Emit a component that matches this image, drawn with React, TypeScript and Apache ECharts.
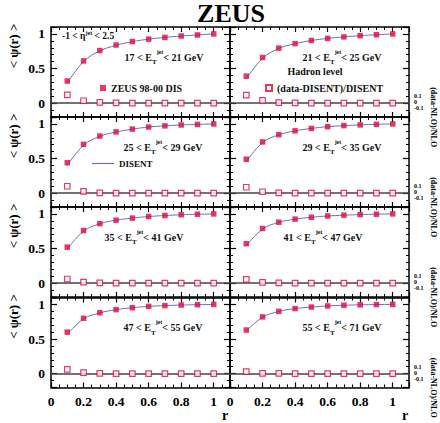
import React, { useEffect, useRef } from 'react';
import * as echarts from 'echarts';

const rValues = [0.1, 0.2, 0.3, 0.4, 0.5, 0.6, 0.7, 0.8, 0.9, 1.0];
const etLow = [17, 21, 25, 29, 35, 41, 47, 55];
const etHigh = [21, 25, 29, 35, 41, 47, 55, 71];

const psi17 = [0.32, 0.61, 0.76, 0.84, 0.89, 0.925, 0.95, 0.97, 0.985, 1.0];
const psi21 = [0.39, 0.66, 0.795, 0.86, 0.905, 0.935, 0.957, 0.975, 0.988, 1.0];
const psi25 = [0.44, 0.705, 0.825, 0.885, 0.925, 0.955, 0.972, 0.985, 0.993, 1.0];
const psi29 = [0.49, 0.74, 0.845, 0.9, 0.935, 0.96, 0.975, 0.986, 0.994, 1.0];
const psi35 = [0.52, 0.76, 0.86, 0.91, 0.94, 0.962, 0.977, 0.988, 0.995, 1.0];
const psi41 = [0.57, 0.79, 0.88, 0.925, 0.952, 0.97, 0.982, 0.99, 0.996, 1.0];
const psi47 = [0.6, 0.8, 0.88, 0.925, 0.952, 0.972, 0.983, 0.991, 0.996, 1.0];
const psi55 = [0.63, 0.82, 0.9, 0.94, 0.962, 0.978, 0.988, 0.994, 0.998, 1.0];

const dis17 = [0.29, 0.6, 0.755, 0.835, 0.888, 0.924, 0.95, 0.97, 0.985, 1.0];
const dis21 = [0.35, 0.645, 0.79, 0.858, 0.904, 0.935, 0.957, 0.975, 0.988, 1.0];
const dis25 = [0.4, 0.69, 0.82, 0.883, 0.924, 0.955, 0.972, 0.985, 0.993, 1.0];
const dis29 = [0.455, 0.73, 0.842, 0.899, 0.935, 0.96, 0.975, 0.986, 0.994, 1.0];
const dis35 = [0.49, 0.75, 0.858, 0.909, 0.94, 0.962, 0.977, 0.988, 0.995, 1.0];
const dis41 = [0.54, 0.78, 0.878, 0.924, 0.952, 0.97, 0.982, 0.99, 0.996, 1.0];
const dis47 = [0.565, 0.79, 0.877, 0.924, 0.952, 0.972, 0.983, 0.991, 0.996, 1.0];
const dis55 = [0.615, 0.815, 0.898, 0.94, 0.962, 0.978, 0.988, 0.994, 0.998, 1.0];

const rat17 = [0.12, 0.035, 0.01, 0.005, 0, 0, 0, 0, 0, 0];
const rat21 = [0.115, 0.04, 0.008, 0.003, 0, 0, 0, 0, 0, 0];
const rat25 = [0.1, 0.025, 0.005, 0, 0, 0, 0, 0, 0, 0];
const rat29 = [0.085, 0.02, 0.004, 0, 0, 0, 0, 0, 0, 0];
const rat35 = [0.06, 0.015, 0.003, 0, 0, 0, 0, 0, 0, 0];
const rat41 = [0.055, 0.01, 0.003, 0, 0, 0, 0, 0, 0, 0];
const rat47 = [0.063, 0.015, 0.005, 0, 0, 0, 0, 0, 0, 0];
const rat55 = [0.03, 0.005, 0.003, 0, 0, 0, 0, 0, 0, 0];

const xTickLabels = ['0', '0.2', '0.4', '0.6', '0.8', '1'];
const yTickLabels = ['0', '0.5', '1'];
const ratioTickLabels = ['0.1', '0', '-0.1'];
const ratioTickValues = [0.1, 0, -0.1];

const psiAll = [psi17, psi21, psi25, psi29, psi35, psi41, psi47, psi55];
const disAll = [dis17, dis21, dis25, dis29, dis35, dis41, dis47, dis55];
const ratAll = [rat17, rat21, rat25, rat29, rat35, rat41, rat47, rat55];

const FONT = 'Liberation Serif';
const RED = '#e0083a';
const BLUE = '#6b6bd9';
const GL = [51, 230];
const GW = 179;
const GT = [27, 117, 207, 297.5];
const GH = 90;
const YMIN = -0.2;
const YMAX = 1.1;
const zeroY = (row: number) => GT[row] + (YMAX / (YMAX - YMIN)) * GH;

const labelCenters = [164, 342, 163, 342, 144, 323, 163, 342];

const fmt = (v: number) => String(Math.round(v * 10) / 10);

export default function App() {
  const ref = useRef<HTMLDivElement>(null);
  useEffect(() => {
    if (!ref.current) return;
    const chart = echarts.init(ref.current, null, { renderer: 'svg' });
    const grids: any[] = [];
    const xAxes: any[] = [];
    const yAxes: any[] = [];
    const series: any[] = [];
    const graphics: any[] = [];
    for (let i = 0; i < 8; i++) {
      const row = Math.floor(i / 2);
      const col = i % 2;
      grids.push({ left: GL[col], top: GT[row], width: GW, height: GH, containLabel: false, outerBoundsMode: 'none' });
      const axLine = { show: true, onZero: false, lineStyle: { color: '#000', width: 1.5 } };
      ['bottom', 'top'].forEach((pos) => {
        xAxes.push({
          type: 'value', gridIndex: i, position: pos, min: 0, max: 1.1, interval: 0.2,
          axisLine: axLine,
          axisTick: { show: true, inside: true, length: 5, lineStyle: { color: '#000', width: 1.2 } },
          minorTick: { show: true, splitNumber: 4, length: 3, lineStyle: { color: '#000', width: 1 } },
          splitLine: { show: false }, minorSplitLine: { show: false },
          axisLabel: {
            show: pos === 'bottom' && row === 3, margin: 7,
            fontFamily: FONT, fontWeight: 'bold', fontSize: 13.5, color: '#000',
            formatter: (v: number) => (xTickLabels.includes(fmt(v)) ? fmt(v) : ''),
          },
        });
      });
      ['left', 'right'].forEach((pos) => {
        yAxes.push({
          type: 'value', gridIndex: i, position: pos, min: YMIN, max: YMAX, splitNumber: 3,
          axisLine: axLine,
          axisTick: { show: true, inside: true, length: 6, lineStyle: { color: '#000', width: 1.2 } },
          minorTick: { show: true, splitNumber: 5, length: 3, lineStyle: { color: '#000', width: 1 } },
          splitLine: { show: false }, minorSplitLine: { show: false },
          axisLabel: {
            show: pos === 'left' && col === 0, margin: 6,
            fontFamily: FONT, fontWeight: 'bold', fontSize: 13.5, color: '#000',
            formatter: (v: number) => (yTickLabels.includes(fmt(v)) ? fmt(v) : ''),
          },
        });
      });
      const xi = 2 * i;
      const yi = 2 * i;
      series.push({
        name: 'DISENT', type: 'line', xAxisIndex: xi, yAxisIndex: yi, smooth: 0.4,
        symbol: 'none', data: rValues.map((r, k) => [r, disAll[i][k]]),
        lineStyle: { color: BLUE, width: 1 }, itemStyle: { color: BLUE }, z: 2,
      });
      series.push({
        name: '(data-DISENT)/DISENT', type: 'scatter', xAxisIndex: xi, yAxisIndex: yi,
        symbol: 'rect', symbolSize: 5.5, data: rValues.map((r, k) => [r, ratAll[i][k]]),
        itemStyle: { color: '#fff', borderColor: RED, borderWidth: 1.2 }, z: 4,
        markLine: {
          silent: true, symbol: ['none', 'none'], label: { show: false },
          lineStyle: { color: '#444', width: 1.5, type: 'solid' }, data: [{ yAxis: 0 }], z: 1,
        },
      });
      series.push({
        name: 'ZEUS 98-00 DIS', type: 'scatter', xAxisIndex: xi, yAxisIndex: yi,
        symbol: 'rect', symbolSize: 5.5, data: rValues.map((r, k) => [r, psiAll[i][k]]),
        itemStyle: { color: RED }, z: 5,
      });
      graphics.push({
        type: 'text', x: labelCenters[i], y: zeroY(row) - 46,
        style: {
          text: `{n|${etLow[i]} < E}{t|T}{j|jet}{n|< ${etHigh[i]} GeV}`,
          align: 'center', verticalAlign: 'middle',
          rich: {
            n: { fontFamily: FONT, fontWeight: 'bold', fontSize: 10, fill: '#111', lineHeight: 17, verticalAlign: 'middle' },
            t: { fontFamily: FONT, fontWeight: 'bold', fontSize: 7, fill: '#111', lineHeight: 17, verticalAlign: 'bottom' },
            j: { fontFamily: FONT, fontWeight: 'bold', fontSize: 6, fill: '#111', lineHeight: 17, verticalAlign: 'top' },
          },
        },
      });
    }
    for (let row = 0; row < 4; row++) {
      graphics.push({
        type: 'text', x: 13, y: GT[row] + 19, rotation: Math.PI / 2,
        style: { text: '< ψ(r) >', fontFamily: FONT, fontWeight: 'bold', fontSize: 13, fill: '#000', align: 'center', verticalAlign: 'middle' },
      });
      graphics.push({
        type: 'text', x: 433, y: zeroY(row) + 14, rotation: -Math.PI / 2,
        style: { text: '(data-NLO)/NLO', fontFamily: FONT, fontWeight: 'bold', fontSize: 8, fill: '#000', align: 'center', verticalAlign: 'middle' },
      });
      ratioTickLabels.forEach((t, k) => {
        graphics.push({
          type: 'text', x: 414, y: zeroY(row) - 1 - ratioTickValues[k] * 60,
          style: { text: t, fontFamily: FONT, fontWeight: 'bold', fontSize: 6, fill: '#000', align: 'left', verticalAlign: 'middle' },
        });
      });
    }
    graphics.push({
      type: 'text', x: 231, y: 13,
      style: { text: 'ZEUS', fontFamily: FONT, fontWeight: 'bold', fontSize: 26, fill: '#000', align: 'center', verticalAlign: 'middle' },
    });
    graphics.push({
      type: 'text', x: 62, y: 36,
      style: {
        text: '{n|-1 < η}{j|jet}{n| < 2.5}', align: 'left', verticalAlign: 'middle',
        rich: {
          n: { fontFamily: FONT, fontWeight: 'bold', fontSize: 9.5, fill: '#111', lineHeight: 13, verticalAlign: 'middle' },
          j: { fontFamily: FONT, fontWeight: 'bold', fontSize: 6, fill: '#111', lineHeight: 13, verticalAlign: 'top' },
        },
      },
    });
    graphics.push({
      type: 'text', x: 315, y: zeroY(0) - 32,
      style: { text: 'Hadron level', fontFamily: FONT, fontWeight: 'bold', fontSize: 10, fill: '#111', align: 'center', verticalAlign: 'middle' },
    });
    graphics.push({
      type: 'text', x: 225, y: 415,
      style: { text: 'r', fontFamily: FONT, fontWeight: 'bold', fontSize: 14, fill: '#000', align: 'center', verticalAlign: 'middle' },
    });
    graphics.push({
      type: 'text', x: 405, y: 415,
      style: { text: 'r', fontFamily: FONT, fontWeight: 'bold', fontSize: 14, fill: '#000', align: 'center', verticalAlign: 'middle' },
    });

    const legText = (size: number) => ({ fontFamily: FONT, fontWeight: 'bold', fontSize: size, color: '#111' });
    chart.setOption({
      animation: false,
      backgroundColor: '#fff',
      grid: grids,
      xAxis: xAxes,
      yAxis: yAxes,
      series,
      legend: [
        { data: ['ZEUS 98-00 DIS'], left: 100, top: 83, padding: 0, itemWidth: 6, itemHeight: 6, itemGap: 4, selectedMode: false, textStyle: legText(10) },
        { data: ['(data-DISENT)/DISENT'], left: 265, top: 83, padding: 0, itemWidth: 6, itemHeight: 6, itemGap: 4, selectedMode: false, textStyle: legText(10) },
        { data: [{ name: 'DISENT', icon: 'rect' }], left: 92, top: 159, padding: 0, itemWidth: 22, itemHeight: 1.2, itemGap: 4, selectedMode: false, textStyle: legText(9) },
      ],
      graphic: graphics,
    });
    return () => chart.dispose();
  }, []);
  return <div ref={ref} style={{ position: 'fixed', left: 0, top: 0, width: 440, height: 423 }} />;
}
